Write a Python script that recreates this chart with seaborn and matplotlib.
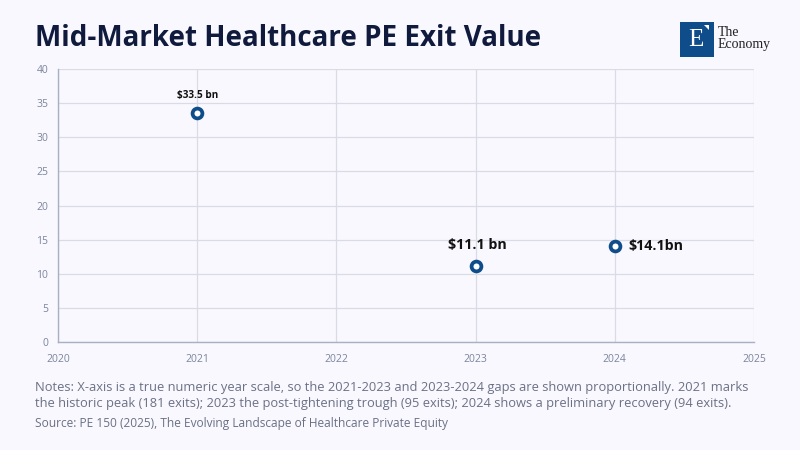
import matplotlib
matplotlib.use("Agg")
import matplotlib.pyplot as plt
import seaborn as sns
import pandas as pd
from matplotlib.patches import Rectangle, Polygon

years = [2021, 2023, 2024]
exit_value_bn = [33.5, 11.1, 14.1]
labels = ["$33.5 bn", "$11.1 bn", "$14.1bn"]
x_ticks = [2020, 2021, 2022, 2023, 2024, 2025]
y_ticks = [0, 5, 10, 15, 20, 25, 30, 35, 40]

df = pd.DataFrame({"year": years, "value": exit_value_bn})

BG = "#f8f8fe"
BLUE = "#0f4c8a"
GRID = "#d9dbe6"
SPINE = "#a8b0c4"
TICK = "#7d859c"

sns.set_theme(style="whitegrid")
plt.rcParams["font.family"] = ["Open Sans", "DejaVu Sans"]

fig = plt.figure(figsize=(8, 4.5), dpi=100, facecolor=BG)
L, R, T, B = 58, 754, 69, 342
ax = fig.add_axes([L / 800, 1 - B / 450, (R - L) / 800, (B - T) / 450])
ax.set_facecolor(BG)

sns.scatterplot(data=df, x="year", y="value", ax=ax, s=50, marker="o",
                facecolor="white", edgecolor=BLUE, linewidth=2.7, zorder=5)

ax.set_xlim(2020, 2025)
ax.set_ylim(0, 40)
ax.set_xticks(x_ticks)
ax.set_yticks(y_ticks)
ax.set_xlabel("")
ax.set_ylabel("")
ax.grid(True, color=GRID, linewidth=0.9)
for s in ["top", "right"]:
    ax.spines[s].set_visible(False)
for s in ["left", "bottom"]:
    ax.spines[s].set_visible(True)
    ax.spines[s].set_color(SPINE)
    ax.spines[s].set_linewidth(1.0)
ax.tick_params(axis="both", length=0, labelsize=7.5, labelcolor=TICK)
ax.tick_params(axis="x", pad=9)
ax.tick_params(axis="y", pad=7)

# Annotations
ax.annotate(labels[0], (years[0], exit_value_bn[0]), xytext=(0, 9),
            textcoords="offset points", ha="center", va="bottom",
            fontsize=7.2, fontweight="bold", color="#111111")
ax.annotate(labels[1], (years[1], exit_value_bn[1]), xytext=(1, 10),
            textcoords="offset points", ha="center", va="bottom",
            fontsize=10.3, fontweight="bold", color="#111111")
ax.annotate(labels[2], (years[2], exit_value_bn[2]), xytext=(10, 0),
            textcoords="offset points", ha="left", va="center",
            fontsize=10.3, fontweight="bold", color="#111111")

# Title
fig.text(35 / 800, 1 - 38 / 450, "Mid-Market Healthcare PE Exit Value",
         fontsize=20, fontweight="bold", color="#0f1a3c", va="center", ha="left")

# Logo
fig.patches.append(Rectangle((680 / 800, 1 - 57 / 450), 34 / 800, 35 / 450,
                             transform=fig.transFigure, facecolor=BLUE,
                             edgecolor="none"))
fig.patches.append(Polygon([(704 / 800, 1 - 25 / 450), (709 / 800, 1 - 25 / 450),
                            (709 / 800, 1 - 30 / 450)],
                           transform=fig.transFigure, facecolor="white",
                           edgecolor="none"))
fig.text(696 / 800, 1 - 40 / 450, "E", fontsize=18, color="white",
         family="Liberation Serif", ha="center", va="center")
fig.text(718 / 800, 1 - 38.5 / 450, "The\nEconomy", fontsize=10,
         color="#222222", family="Liberation Serif", ha="left", va="center",
         linespacing=0.9)

# Notes
fig.text(35 / 800, 1 - 396 / 450,
         "Notes: X-axis is a true numeric year scale, so the 2021-2023 and 2023-2024 gaps are shown proportionally. 2021 marks\n"
         "the historic peak (181 exits); 2023 the post-tightening trough (95 exits); 2024 shows a preliminary recovery (94 exits).",
         fontsize=9.3, color="#6b7085", ha="left", va="center", linespacing=1.3)
fig.text(35 / 800, 1 - 424 / 450,
         "Source: PE 150 (2025), The Evolving Landscape of Healthcare Private Equity",
         fontsize=8.6, color="#6b7085", ha="left", va="center")

fig.savefig("out.png", dpi=100, facecolor=BG)
